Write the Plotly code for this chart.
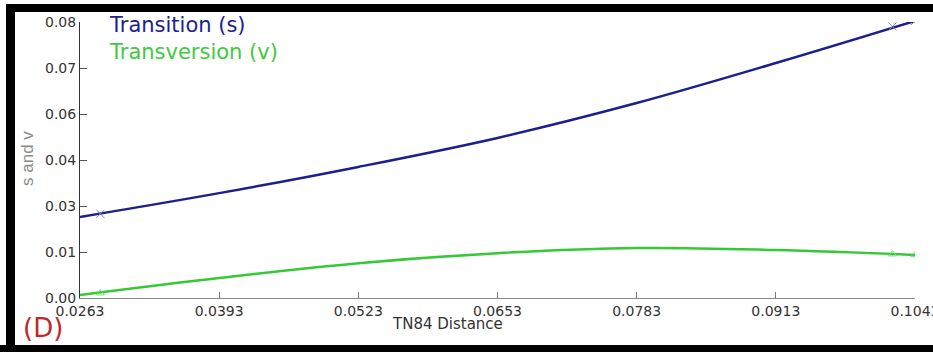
import plotly.graph_objects as go

# ---- data ----
distance = [0.0263, 0.0393, 0.0523, 0.0653, 0.0783, 0.0913, 0.1043]
transition_s = [0.0235, 0.0304, 0.0380, 0.0464, 0.0565, 0.0681, 0.0803]
transversion_v = [0.0009, 0.0058, 0.0101, 0.0130, 0.0145, 0.0139, 0.0125]

marker_x = [0.0282, 0.1022, 0.1043]
marker_s = [0.0244, 0.0787, 0.0803]
marker_v = [0.0014, 0.0127, 0.0125]

x_ticks = [0.0263, 0.0393, 0.0523, 0.0653, 0.0783, 0.0913, 0.1043]
x_ticktext = ["0.0263", "0.0393", "0.0523", "0.0653", "0.0783", "0.0913", "0.1043"]
y_ticks = [0.0, 0.08 / 6, 0.16 / 6, 0.24 / 6, 0.32 / 6, 0.40 / 6, 0.08]
y_ticktext = ["0.00", "0.01", "0.03", "0.04", "0.06", "0.07", "0.08"]

# final figure geometry (page pixels); plot area x 80..915, y 22..298
W, H = 933, 352
L, R, T, B = 80, 18, 22, 54
PW, PH = W - L - R, H - T - B
OFF = 8  # default body margin of the page


def px(p):  # page pixel -> paper x
    return (p - L) / PW


def py(p):  # page pixel -> paper y
    return (H - B - p) / PH


BLUE = "#1e1e8c"
GREEN = "#35c935"

fig = go.Figure()
fig.add_trace(go.Scatter(x=distance, y=transition_s, mode="lines",
                         line=dict(color=BLUE, width=2.5, shape="spline"),
                         name="Transition (s)", showlegend=False))
fig.add_trace(go.Scatter(x=distance, y=transversion_v, mode="lines",
                         line=dict(color=GREEN, width=2.5, shape="spline"),
                         name="Transversion (v)", showlegend=False))
fig.add_trace(go.Scatter(x=marker_x, y=marker_s, mode="markers",
                         marker=dict(symbol="x-thin-open", size=8, color="#8080b8",
                                     line=dict(color="#8080b8", width=1)),
                         showlegend=False))
fig.add_trace(go.Scatter(x=marker_x, y=marker_v, mode="markers",
                         marker=dict(symbol="triangle-up-open", size=7, color="#7fd47f",
                                     line=dict(color="#7fd47f", width=1)),
                         showlegend=False))

tickfont = dict(family="DejaVu Sans", size=14, color="#333333")

fig.update_xaxes(range=[0.0263, 0.1043], tickvals=x_ticks, ticktext=x_ticktext,
                 ticks="inside", ticklen=6, tickcolor="#777777", showline=True,
                 linecolor="#8a8a8a", linewidth=1, showgrid=False, zeroline=False,
                 tickfont=tickfont, ticklabeloverflow="allow", automargin=False)
fig.update_yaxes(range=[0, 0.08], tickvals=y_ticks, ticktext=y_ticktext,
                 ticks="inside", ticklen=7, tickcolor="#555555", showline=True,
                 linecolor="#333333", linewidth=1, showgrid=False, zeroline=False,
                 tickfont=tickfont, automargin=False)

annotations = [
    dict(text="Transition (s)", x=px(107), y=py(25), xanchor="left", yanchor="middle",
         font=dict(family="DejaVu Sans", size=21, color=BLUE)),
    dict(text="Transversion (v)", x=px(107), y=py(52), xanchor="left", yanchor="middle",
         font=dict(family="DejaVu Sans", size=21, color="#3ecb3e")),
    dict(text="TN84 Distance", x=px(447), y=py(324), xanchor="center", yanchor="middle",
         font=dict(family="DejaVu Sans", size=15, color="#333333")),
    dict(text="s and v", x=px(27), y=py(159), xanchor="center", yanchor="middle",
         textangle=-90, font=dict(family="Arial", size=17, color="#8a8a8a")),
    dict(text="(D)", x=px(43), y=py(328), xanchor="center", yanchor="middle",
         font=dict(family="DejaVu Sans", size=26, color="#c0282d")),
]
for a in annotations:
    a.update(xref="paper", yref="paper", showarrow=False)

shapes = [
    dict(x0=px(7), x1=px(W), y0=py(4), y1=py(12)),
    dict(x0=px(6), x1=px(15), y0=py(4), y1=py(H)),
    dict(x0=px(0), x1=px(W), y0=py(345), y1=py(H)),
]
for s in shapes:
    s.update(type="rect", xref="paper", yref="paper", fillcolor="black",
             line=dict(width=0), layer="above")

# initial size fits inside the page's 8px body margin (no scrollbars);
# the plot area keeps the same pixel size, so paper coordinates are unchanged
fig.update_layout(width=W - 2 * OFF, height=H - 2 * OFF,
                  margin=dict(l=L - OFF, r=R - OFF, t=T - OFF, b=B - OFF, autoexpand=False),
                  paper_bgcolor="white", plot_bgcolor="white", hovermode=False,
                  annotations=annotations, shapes=shapes)

post = (
    "document.documentElement.style.overflow='hidden';"
    "document.body.style.overflow='hidden';"
    "document.body.style.margin='0';"
    "var gd=document.getElementById('{plot_id}');"
    "gd.style.width='%dpx';gd.style.height='%dpx';"
    "Plotly.relayout(gd,{width:%d,height:%d,'margin.l':%d,'margin.r':%d,"
    "'margin.t':%d,'margin.b':%d});" % (W, H, W, H, L, R, T, B)
)

fig.write_html("out.html", config={"displayModeBar": False, "staticPlot": True},
               post_script=post)
